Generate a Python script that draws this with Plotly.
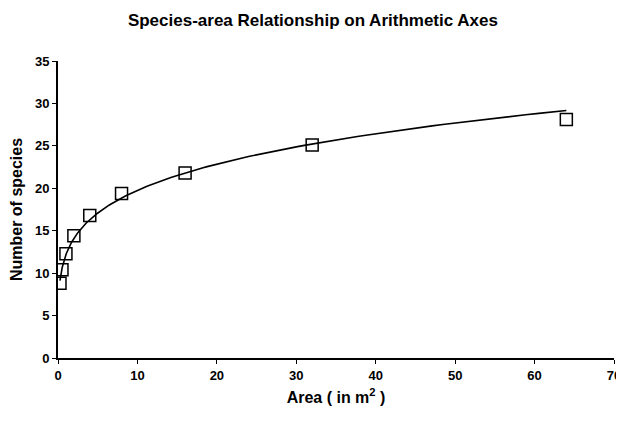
import numpy as np
import plotly.graph_objects as go

# quadrat area (m2) and number of species counted
area = [0.25, 0.5, 1, 2, 4, 8, 16, 32, 64]
species = [8.8, 10.4, 12.3, 14.4, 16.8, 19.4, 21.8, 25.1, 28.1]

x_ticks = [0, 10, 20, 30, 40, 50, 60, 70]
y_ticks = [0, 5, 10, 15, 20, 25, 30, 35]

# power trendline S = c * A^z, fitted on log-log
z, log_c = np.polyfit(np.log(area), np.log(species), 1)
fit_x = np.geomspace(min(area), max(area), 200)
fit_y = np.exp(log_c) * fit_x ** z

font = "Arial, Liberation Sans, sans-serif"

fig = go.Figure()
fig.add_trace(go.Scatter(
    x=fit_x, y=fit_y, mode="lines",
    line=dict(color="black", width=1.6),
    hoverinfo="skip", showlegend=False,
))
fig.add_trace(go.Scatter(
    x=area, y=species, mode="markers",
    marker=dict(symbol="square-open", size=12, color="black",
                line=dict(color="black", width=1.5)),
    showlegend=False,
))

# page body has an 8px margin, so the figure is sized/margined to compensate
fig.update_layout(
    width=616, height=413,
    margin=dict(l=50, r=10, t=53, b=63),
    paper_bgcolor="white", plot_bgcolor="white",
    font=dict(family=font, color="black"),
    title=dict(text="<b>Species-area Relationship on Arithmetic Axes</b>",
               x=0.495, xanchor="center", y=0.97, yanchor="middle",
               font=dict(size=17, family=font, color="black")),
)
fig.update_xaxes(
    range=[0, 70], tickvals=x_ticks,
    ticktext=[f"<b>{v}</b>" for v in x_ticks],
    showgrid=False, zeroline=False,
    showline=True, linecolor="black", linewidth=2,
    ticks="outside", ticklen=4, tickcolor="black",
    tickfont=dict(size=13, family=font),
    ticklabeloverflow="allow", automargin=False,
    title=dict(text="<b>Area ( in m<sup>2</sup> )</b>",
               font=dict(size=16, family=font), standoff=10),
)
fig.update_yaxes(
    range=[0, 35], tickvals=y_ticks,
    ticktext=[f"<b>{v}</b>" for v in y_ticks],
    showgrid=False, zeroline=False,
    showline=True, linecolor="black", linewidth=2,
    ticks="outside", ticklen=4, tickcolor="black",
    tickfont=dict(size=13, family=font), automargin=False,
    title=dict(text="<b>Number of species</b>",
               font=dict(size=16, family=font), standoff=9),
)

fig.write_html("out.html")
